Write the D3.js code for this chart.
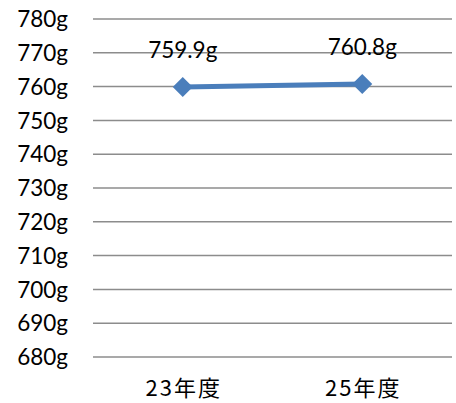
<!DOCTYPE html>
<html><head><meta charset="utf-8">
<script src="https://cdn.jsdelivr.net/npm/d3@7"></script>
<style>html,body{margin:0;padding:0;background:#fff;}svg{display:block;}</style>
</head><body>
<svg id="c" width="456" height="403"></svg>
<script>
const categories = ["23年度", "25年度"];
const values = [759.9, 760.8];
const valueLabels = ["759.9g", "760.8g"];
const yTicks = [680, 690, 700, 710, 720, 730, 740, 750, 760, 770, 780];

const svg = d3.select("#c");
const x = d3.scaleBand().domain(categories).range([93, 452]).padding(0);
const y = d3.scaleLinear().domain([680, 780]).range([357, 19]);

// gridlines
svg.append("g").selectAll("line").data(yTicks).join("line")
  .attr("x1", 93).attr("x2", 452)
  .attr("y1", d => y(d)).attr("y2", d => y(d))
  .attr("stroke", "#8c8c8c").attr("stroke-width", 1.5);

// y labels
svg.append("g").selectAll("text").data(yTicks).join("text")
  .attr("x", 68).attr("y", d => y(d)).attr("dy", "0.36em")
  .attr("text-anchor", "end")
  .attr("font-family", "Lato, 'Open Sans', sans-serif").attr("font-size", 22.5)
  .attr("fill", "#000")
  .text(d => d + "g");

// x labels
svg.append("g").selectAll("text").data(categories).join("text")
  .attr("x", d => x(d) + x.bandwidth() / 2 + 1).attr("y", 396)
  .attr("text-anchor", "middle")
  .attr("font-family", "'Noto Sans CJK JP', sans-serif").attr("font-size", 22)
  .attr("letter-spacing", 2)
  .attr("fill", "#000")
  .text(d => d);

const pts = categories.map((c, i) => [x(c) + x.bandwidth() / 2, y(values[i])]);

svg.append("path").datum(pts)
  .attr("d", d3.line())
  .attr("fill", "none").attr("stroke", "#4a7ebb").attr("stroke-width", 5);

const r = 10;
svg.append("g").selectAll("path").data(pts).join("path")
  .attr("d", p => `M${p[0]},${p[1]-r}L${p[0]+r},${p[1]}L${p[0]},${p[1]+r}L${p[0]-r},${p[1]}Z`)
  .attr("fill", "#4a7ebb");

svg.append("g").selectAll("text").data(pts).join("text")
  .attr("x", p => p[0]).attr("y", p => p[1] - 29)
  .attr("text-anchor", "middle")
  .attr("font-family", "Lato, 'Open Sans', sans-serif").attr("font-size", 22.5)
  .attr("fill", "#000")
  .text((p, i) => valueLabels[i]);
</script>
</body></html>
